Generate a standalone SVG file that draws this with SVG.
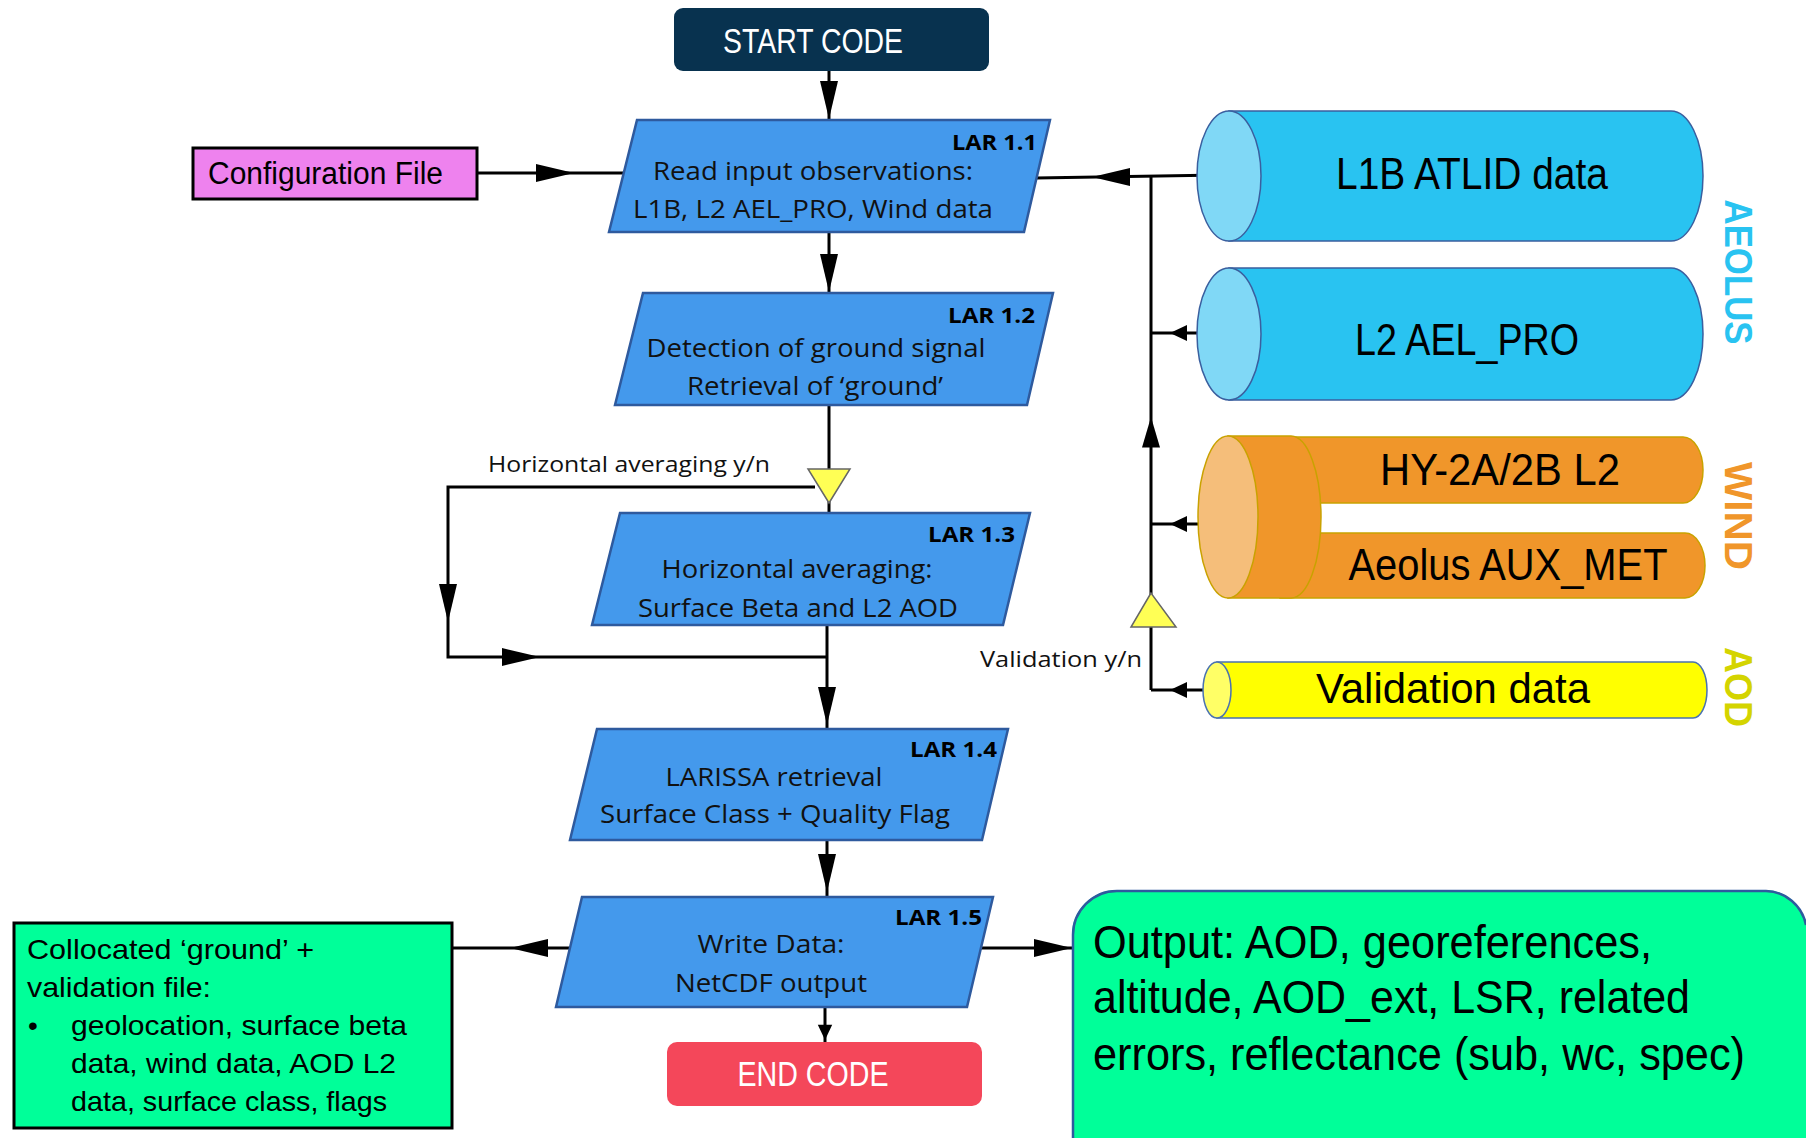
<svg xmlns="http://www.w3.org/2000/svg" width="1806" height="1138" viewBox="0 0 1806 1138">
<style>
.lar{fill:#4499ec;stroke:#2e5a9e;stroke-width:2.5}
.ln{fill:none;stroke:#000;stroke-width:3}
.ah{fill:#000}
.t{font-family:"Open Sans","Liberation Sans",sans-serif;fill:#111}
.lab{font-family:"Open Sans","Liberation Sans",sans-serif;font-weight:bold;font-size:21px;fill:#000;text-anchor:end}
.body{font-size:25px;text-anchor:middle}
.c{font-family:"Liberation Sans",sans-serif;fill:#000}
.cyl{font-size:44px;text-anchor:middle}
.side{font-family:"Liberation Sans",sans-serif;font-weight:bold;font-size:38px;text-anchor:middle;dominant-baseline:central}
.tri{fill:#ffff55;stroke:#666;stroke-width:1.5}
</style>
<defs>
<path id="ah" d="M0,0 L-38,-9 L-38,9 Z"/>
<path id="ahs" d="M0,0 L-17,-8 L-17,8 Z"/>
</defs>

<g id="connectors">
<line class="ln" x1="829" y1="71" x2="829" y2="120"/>
<use href="#ah" class="ah" transform="translate(829,119) rotate(90)"/>
<line class="ln" x1="829" y1="232" x2="829" y2="293"/>
<use href="#ah" class="ah" transform="translate(829,292) rotate(90)"/>
<line class="ln" x1="829" y1="405" x2="829" y2="470"/>
<line class="ln" x1="829" y1="500" x2="829" y2="513"/>
<polyline class="ln" points="815,487 448,487 448,657 827,657"/>
<use href="#ah" class="ah" transform="translate(448,622) rotate(90)"/>
<use href="#ah" class="ah" transform="translate(540,657)"/>
<line class="ln" x1="827" y1="625" x2="827" y2="729"/>
<use href="#ah" class="ah" transform="translate(827,725) rotate(90)"/>
<line class="ln" x1="827" y1="840" x2="827" y2="897"/>
<use href="#ah" class="ah" transform="translate(827,892) rotate(90)"/>
<line class="ln" x1="825" y1="1007" x2="825" y2="1042"/>
<use href="#ahs" class="ah" transform="translate(825,1040) rotate(90) scale(0.9)"/>
<line class="ln" x1="477" y1="173" x2="624" y2="173"/>
<use href="#ah" class="ah" transform="translate(574,173)"/>
<line class="ln" x1="1220" y1="175" x2="1036" y2="178"/>
<use href="#ah" class="ah" transform="translate(1092,177) rotate(180)"/>
<line class="ln" x1="1151" y1="176" x2="1151" y2="690"/>
<line class="ln" x1="1220" y1="333" x2="1151" y2="333"/>
<use href="#ahs" class="ah" transform="translate(1170,333) rotate(180)"/>
<use href="#ah" class="ah" transform="translate(1151,417) rotate(-90) scale(0.8,1)"/>
<line class="ln" x1="1220" y1="524" x2="1151" y2="524"/>
<use href="#ahs" class="ah" transform="translate(1170,524) rotate(180)"/>
<line class="ln" x1="1218" y1="690" x2="1151" y2="690"/>
<use href="#ahs" class="ah" transform="translate(1170,690) rotate(180)"/>
<polygon class="tri" points="1151,593 1131,627 1176,627"/>
<polygon class="tri" points="808,469 850,469 829,503"/>
<line class="ln" x1="452" y1="948" x2="570" y2="948"/>
<use href="#ah" class="ah" transform="translate(510,948) rotate(180)"/>
<line class="ln" x1="980" y1="948" x2="1072" y2="948"/>
<use href="#ah" class="ah" transform="translate(1072,948)"/>
<text class="t" x="488" y="472" font-size="22" textLength="282" lengthAdjust="spacingAndGlyphs">Horizontal averaging y/n</text>
<text class="t" x="980" y="667" font-size="22" textLength="162" lengthAdjust="spacingAndGlyphs">Validation y/n</text>
</g>

<g id="start">
<rect x="674" y="8" width="315" height="63" rx="9" fill="#08324f"/>
<text class="c" x="813" y="53" font-size="35" style="fill:#fff" text-anchor="middle" textLength="180" lengthAdjust="spacingAndGlyphs">START CODE</text>
</g>

<g id="config">
<rect x="193" y="148" width="284" height="51" fill="#ee82ee" stroke="#000" stroke-width="3"/>
<text class="c" x="208" y="184" font-size="31" textLength="235" lengthAdjust="spacingAndGlyphs">Configuration File</text>
</g>

<g id="lar11">
<polygon class="lar" points="637,120 1050,120 1024,232 609,232"/>
<text class="lab" x="1037" y="150" textLength="85" lengthAdjust="spacingAndGlyphs">LAR 1.1</text>
<text class="t body" x="813" y="180" textLength="320" lengthAdjust="spacingAndGlyphs">Read input observations:</text>
<text class="t body" x="813" y="218" textLength="360" lengthAdjust="spacingAndGlyphs">L1B, L2 AEL_PRO, Wind data</text>
</g>

<g id="lar12">
<polygon class="lar" points="643,293 1053,293 1027,405 615,405"/>
<text class="lab" x="1035" y="323" textLength="87" lengthAdjust="spacingAndGlyphs">LAR 1.2</text>
<text class="t body" x="816" y="357" textLength="339" lengthAdjust="spacingAndGlyphs">Detection of ground signal</text>
<text class="t body" x="815" y="395" textLength="256" lengthAdjust="spacingAndGlyphs">Retrieval of ‘ground’</text>
</g>

<g id="lar13">
<polygon class="lar" points="620,513 1030,513 1003,625 592,625"/>
<text class="lab" x="1015" y="542" textLength="87" lengthAdjust="spacingAndGlyphs">LAR 1.3</text>
<text class="t body" x="797" y="578" textLength="271" lengthAdjust="spacingAndGlyphs">Horizontal averaging:</text>
<text class="t body" x="798" y="617" textLength="320" lengthAdjust="spacingAndGlyphs">Surface Beta and L2 AOD</text>
</g>

<g id="lar14">
<polygon class="lar" points="597,729 1008,729 982,840 570,840"/>
<text class="lab" x="997" y="757" textLength="87" lengthAdjust="spacingAndGlyphs">LAR 1.4</text>
<text class="t body" x="774" y="786" textLength="217" lengthAdjust="spacingAndGlyphs">LARISSA retrieval</text>
<text class="t body" x="775" y="823" textLength="350" lengthAdjust="spacingAndGlyphs">Surface Class + Quality Flag</text>
</g>

<g id="lar15">
<polygon class="lar" points="582,897 993,897 967,1007 556,1007"/>
<text class="lab" x="982" y="925" textLength="87" lengthAdjust="spacingAndGlyphs">LAR 1.5</text>
<text class="t body" x="771" y="953" textLength="147" lengthAdjust="spacingAndGlyphs">Write Data:</text>
<text class="t body" x="771" y="992" textLength="192" lengthAdjust="spacingAndGlyphs">NetCDF output</text>
</g>

<g id="end">
<rect x="667" y="1042" width="315" height="64" rx="10" fill="#f4475a"/>
<text class="c" x="813" y="1086" font-size="35" style="fill:#fff" text-anchor="middle" textLength="151" lengthAdjust="spacingAndGlyphs">END CODE</text>
</g>

<g id="collocated">
<rect x="14" y="923" width="438" height="205" fill="#00ff99" stroke="#000" stroke-width="3"/>
<text class="c" font-size="28">
<tspan x="27" y="959" textLength="287" lengthAdjust="spacingAndGlyphs">Collocated ‘ground’ +</tspan>
<tspan x="27" y="997" textLength="184" lengthAdjust="spacingAndGlyphs">validation file:</tspan>
<tspan x="28" y="1035">•</tspan>
<tspan x="71" y="1035" textLength="336" lengthAdjust="spacingAndGlyphs">geolocation, surface beta</tspan>
<tspan x="71" y="1073" textLength="325" lengthAdjust="spacingAndGlyphs">data, wind data, AOD L2</tspan>
<tspan x="71" y="1111" textLength="316" lengthAdjust="spacingAndGlyphs">data, surface class, flags</tspan>
</text>
</g>

<g id="output">
<path d="M1072,1138 V935 A45,45 0 0 1 1117,890 H1766 A42,42 0 0 1 1806,924 V1138 Z" fill="#00ff99"/>
<path d="M1073,1138 V935 A44,44 0 0 1 1117,891 H1766 A42,42 0 0 1 1806,925" fill="none" stroke="#2e5a9e" stroke-width="2.5"/>
<text class="c" x="1093" y="958" font-size="46" textLength="559" lengthAdjust="spacingAndGlyphs">Output: AOD, georeferences,</text>
<text class="c" x="1093" y="1013" font-size="46" textLength="597" lengthAdjust="spacingAndGlyphs">altitude, AOD_ext, LSR, related</text>
<text class="c" x="1093" y="1070" font-size="46" textLength="652" lengthAdjust="spacingAndGlyphs">errors, reflectance (sub, wc, spec)</text>
</g>

<g id="l1b">
<path d="M1229,111 L1671,111 A32,65 0 0 1 1671,241 L1229,241 Z" fill="#29c3f1" stroke="#3a5f9f" stroke-width="1.5"/>
<ellipse cx="1229" cy="176" rx="32" ry="65" fill="#80d8f6" stroke="#3a5f9f" stroke-width="1.5"/>
<text class="c cyl" x="1472" y="189" textLength="272" lengthAdjust="spacingAndGlyphs">L1B ATLID data</text>
</g>

<g id="l2ael">
<path d="M1229,268 L1671,268 A32,66 0 0 1 1671,400 L1229,400 Z" fill="#29c3f1" stroke="#3a5f9f" stroke-width="1.5"/>
<ellipse cx="1229" cy="334" rx="32" ry="66" fill="#80d8f6" stroke="#3a5f9f" stroke-width="1.5"/>
<text class="c cyl" x="1467" y="355" textLength="224" lengthAdjust="spacingAndGlyphs">L2 AEL_PRO</text>
</g>

<g id="wind">
<path d="M1280,437 L1683,437 A20,33 0 0 1 1683,503 L1280,503 Z" fill="#f0962a" stroke="#c9a200" stroke-width="1.5"/>
<path d="M1280,533 L1685,533 A20,32.5 0 0 1 1685,598 L1280,598 Z" fill="#f0962a" stroke="#c9a200" stroke-width="1.5"/>
<path d="M1228,436 L1291,436 A30,81 0 0 1 1291,598 L1228,598 Z" fill="#f0962a" stroke="#c9a200" stroke-width="1.5"/>
<ellipse cx="1228" cy="517" rx="30" ry="81" fill="#f5be7a" stroke="#c9a200" stroke-width="1.5"/>
<text class="c cyl" x="1500" y="485" textLength="240" lengthAdjust="spacingAndGlyphs">HY-2A/2B L2</text>
<text class="c cyl" x="1508" y="580" textLength="319" lengthAdjust="spacingAndGlyphs">Aeolus AUX_MET</text>
</g>

<g id="validation">
<path d="M1217,662 L1693,662 A14,28 0 0 1 1693,718 L1217,718 Z" fill="#ffff00" stroke="#4a72b0" stroke-width="1.5"/>
<ellipse cx="1217" cy="690" rx="14" ry="28" fill="#ffff66" stroke="#4a72b0" stroke-width="1.5"/>
<text class="c cyl" x="1453" y="703" style="font-size:42px" textLength="274" lengthAdjust="spacingAndGlyphs">Validation data</text>
</g>

<g id="labels">
<text class="side" transform="translate(1738,272) rotate(90)" fill="#29c3f1" textLength="145" lengthAdjust="spacingAndGlyphs">AEOLUS</text>
<text class="side" transform="translate(1738,516) rotate(90)" fill="#f0962a" textLength="108" lengthAdjust="spacingAndGlyphs">WIND</text>
<text class="side" transform="translate(1738,687) rotate(90)" fill="#d4d400" textLength="80" lengthAdjust="spacingAndGlyphs">AOD</text>
</g>
</svg>
